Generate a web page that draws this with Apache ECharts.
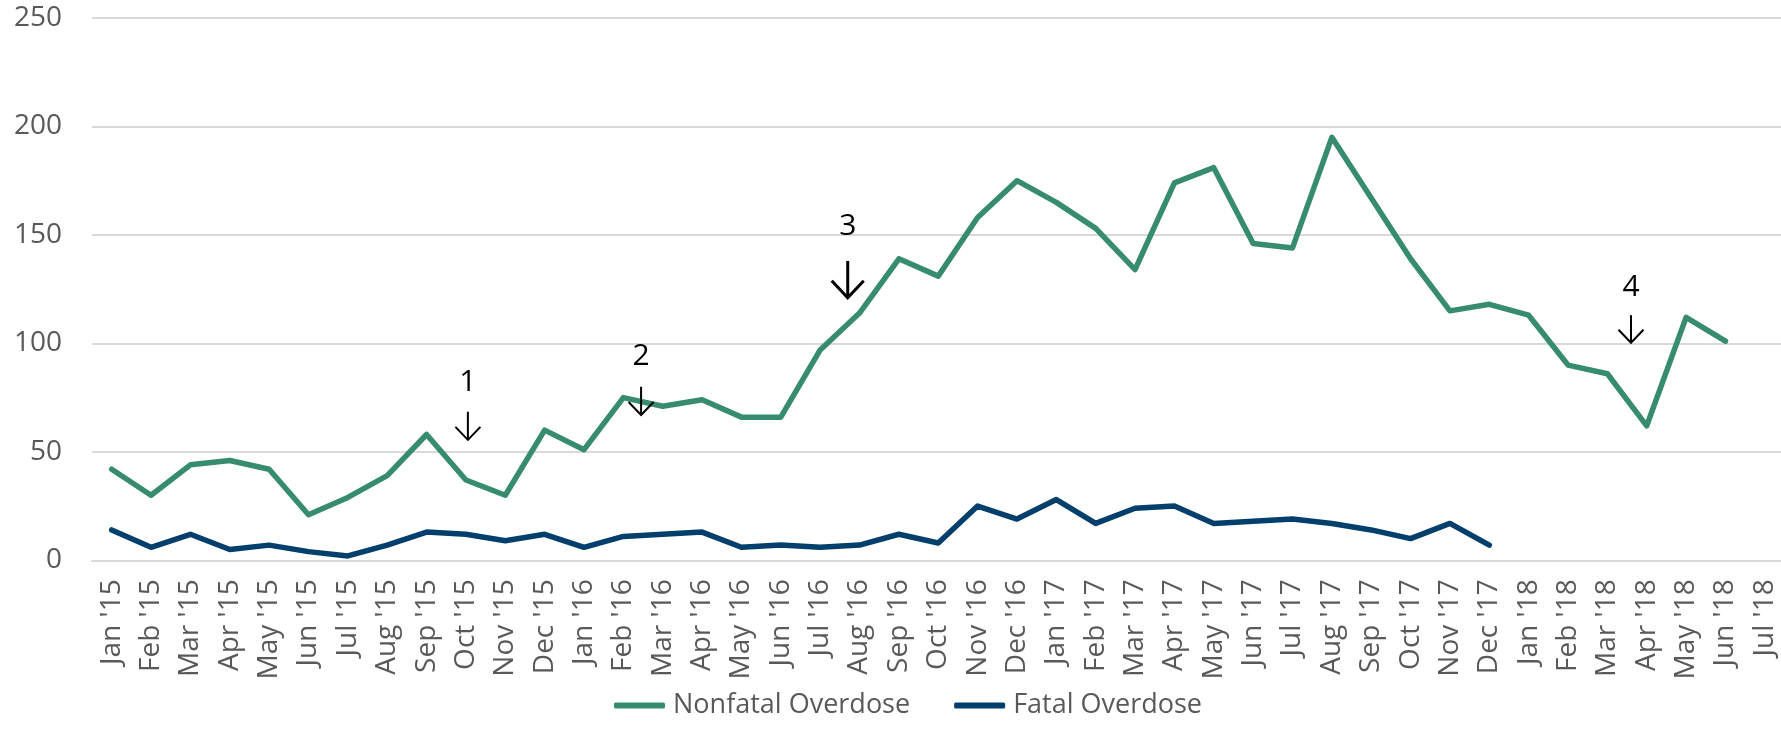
<!DOCTYPE html>
<html><head><meta charset="utf-8">
<script src="https://cdn.jsdelivr.net/npm/echarts@6/dist/echarts.min.js"></script>
<style>html,body{margin:0;padding:0;background:#fff}#c{width:1781px;height:751px}</style>
</head><body><div id="c"></div>
<script>
const categories = ["Jan '15","Feb '15","Mar '15","Apr '15","May '15","Jun '15","Jul '15","Aug '15","Sep '15","Oct '15","Nov '15","Dec '15",
  "Jan '16","Feb '16","Mar '16","Apr '16","May '16","Jun '16","Jul '16","Aug '16","Sep '16","Oct '16","Nov '16","Dec '16",
  "Jan '17","Feb '17","Mar '17","Apr '17","May '17","Jun '17","Jul '17","Aug '17","Sep '17","Oct '17","Nov '17","Dec '17",
  "Jan '18","Feb '18","Mar '18","Apr '18","May '18","Jun '18","Jul '18"];
const nonfatal = [42,30,44,46,42,21,29,39,58,37,30,60,
  51,75,71,74,66,66,97,114,139,131,158,175,
  165,153,134,174,181,146,144,195,167,139,115,118,
  113,90,86,62,112,101,null];
const fatal = [14,6,12,5,7,4,2,7,13,12,9,12,
  6,11,12,13,6,7,6,7,12,8,25,19,
  28,17,24,25,17,18,19,17,14,10,17,7,
  null,null,null,null,null,null,null];
const yTicks = [0, 50, 100, 150, 200, 250];
const seriesNames = ['Nonfatal Overdose', 'Fatal Overdose'];
// annotations: label, x position (month index), text value, arrow top value, arrow bottom value
const annoLabels = ['1', '2', '3', '4'];
const annoX = [9.05, 13.45, 18.7, 38.6];
const annoTextY = [82, 94, 154, 126];
const annoArrowTop = [68.5, 80, 138, 113];
const annoArrowBottom = [55.5, 67, 121, 100.3];

const FONT = 'Open Sans';
const chart = echarts.init(document.getElementById('c'), null, {renderer: 'canvas'});
const option = {
  animation: false,
  backgroundColor: '#fff',
  grid: {left: 92, right: -3.5, top: 18, bottom: 190.7, containLabel: false, outerBoundsMode: 'none'},
  legend: {
    data: seriesNames, left: 609, top: 687, itemWidth: 51, itemHeight: 6, itemGap: 44,
    icon: 'roundRect',
    textStyle: {fontSize: 27, fontFamily: FONT, color: '#595959', padding: [0, 0, 0, 3]}
  },
  xAxis: [{
    type: 'category', data: categories, boundaryGap: true,
    axisTick: {show: false},
    axisLine: {show: true, lineStyle: {color: '#D9D9D9', width: 2}},
    axisLabel: {rotate: 90, interval: 0, margin: 19, fontSize: 28, fontFamily: FONT, color: '#595959'},
    splitLine: {show: false}
  }, {
    type: 'value', min: -0.5, max: categories.length - 0.5, show: false
  }],
  yAxis: {
    type: 'value', min: yTicks[0], max: yTicks[yTicks.length - 1], interval: yTicks[1] - yTicks[0],
    axisLine: {show: false}, axisTick: {show: false},
    axisLabel: {margin: 30, fontSize: 28, fontFamily: FONT, color: '#595959'},
    splitLine: {show: true, lineStyle: {color: '#D9D9D9', width: 2}}
  },
  series: [{
    name: seriesNames[0], type: 'line', data: nonfatal, symbol: 'none', showSymbol: false,
    color: '#378C70',
    lineStyle: {width: 5.5, color: '#378C70', join: 'round', cap: 'round'},
    itemStyle: {color: '#378C70'}, z: 3
  }, {
    name: seriesNames[1], type: 'line', data: fatal, symbol: 'none', showSymbol: false,
    color: '#023F6C',
    lineStyle: {width: 5.5, color: '#023F6C', join: 'round', cap: 'round'},
    itemStyle: {color: '#023F6C'}, z: 3
  }, {
    type: 'custom', xAxisIndex: 1, yAxisIndex: 0, silent: true, z: 5,
    data: annoX.map((x, i) => [x, annoTextY[i], annoArrowTop[i], annoArrowBottom[i]]),
    encode: {x: 0, y: [1, 2, 3]},
    renderItem: function (params, api) {
      const i = params.dataIndex;
      const x = api.value(0);
      const pT = api.coord([x, api.value(1)]);
      const pA = api.coord([x, api.value(2)]);
      const pB = api.coord([x, api.value(3)]);
      const big = annoLabels[i] === '3';
      const hw = big ? 16 : 12.5, hh = big ? 17 : 13, lw = big ? 3 : 2;
      return {
        type: 'group',
        children: [
          {type: 'text', style: {text: annoLabels[i], x: pT[0], y: pT[1], fill: '#000',
            fontSize: 30, fontFamily: FONT, align: 'center', verticalAlign: 'middle'}},
          {type: 'line', shape: {x1: pA[0], y1: pA[1], x2: pB[0], y2: pB[1]},
            style: {stroke: '#000', lineWidth: lw}},
          {type: 'polyline', shape: {points: [[pB[0] - hw, pB[1] - hh], [pB[0], pB[1]], [pB[0] + hw, pB[1] - hh]]},
            style: {stroke: '#000', lineWidth: lw, fill: null}}
        ]
      };
    }
  }]
};
chart.setOption(option);
</script>
</body></html>
